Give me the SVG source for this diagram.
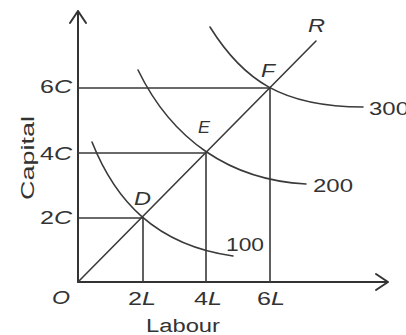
<svg xmlns="http://www.w3.org/2000/svg" width="406" height="335" viewBox="0 0 406 335">
<style>
.ln{stroke:#3a3a3a;stroke-width:1.6;fill:none;stroke-linecap:round}
.ax{stroke:#333;stroke-width:2;fill:none;stroke-linecap:round;stroke-linejoin:round}
.t{font-family:"Liberation Sans",Arial,sans-serif;font-size:18px;fill:#333}
.i{font-style:italic}
</style>
<rect width="406" height="335" fill="#fff"/>
<g id="axes">
<path class="ax" d="M78,282 V11 M70,23 L78,11 L86,23"/>
<path class="ax" d="M78,282 H388 M376,274 L388,282 L376,290"/>
</g>
<g id="guides">
<path class="ln" d="M78,88 H270 V282 M78,153 H206 V282 M78,218 H143 V282"/>
</g>
<g id="ray">
<path class="ln" d="M78,282 L316,41"/>
</g>
<g id="curves">
<path class="ln" d="M92,142 C115,200 155,245 233,256"/>
<path class="ln" d="M138,70 C172,140 230,180 306,184"/>
<path class="ln" d="M210,27 C243,80 282,107 363,107"/>
</g>
<g id="labels">
<text class="t" x="40" y="93" textLength="32" lengthAdjust="spacingAndGlyphs">6<tspan class="i">C</tspan></text>
<text class="t" x="40" y="160" textLength="32" lengthAdjust="spacingAndGlyphs">4<tspan class="i">C</tspan></text>
<text class="t" x="40" y="224" textLength="32" lengthAdjust="spacingAndGlyphs">2<tspan class="i">C</tspan></text>
<text class="t i" x="52" y="304" textLength="18" lengthAdjust="spacingAndGlyphs">O</text>
<text class="t" x="128" y="305" textLength="28" lengthAdjust="spacingAndGlyphs">2<tspan class="i">L</tspan></text>
<text class="t" x="194" y="305" textLength="28" lengthAdjust="spacingAndGlyphs">4<tspan class="i">L</tspan></text>
<text class="t" x="257" y="305" textLength="28" lengthAdjust="spacingAndGlyphs">6<tspan class="i">L</tspan></text>
<text class="t" x="146" y="332" textLength="74" lengthAdjust="spacingAndGlyphs">Labour</text>
<text class="t" transform="translate(34,158) rotate(-90)" text-anchor="middle" textLength="84" lengthAdjust="spacingAndGlyphs">Capital</text>
<text class="t" x="226" y="251" textLength="38" lengthAdjust="spacingAndGlyphs">100</text>
<text class="t" x="313" y="192" textLength="40" lengthAdjust="spacingAndGlyphs">200</text>
<text class="t" x="369" y="115" textLength="40" lengthAdjust="spacingAndGlyphs">300</text>
<text class="t i" x="308" y="32" textLength="17" lengthAdjust="spacingAndGlyphs">R</text>
<text class="t i" x="261" y="77" textLength="14" lengthAdjust="spacingAndGlyphs">F</text>
<text class="t i" x="134" y="205" textLength="17" lengthAdjust="spacingAndGlyphs">D</text>
<text class="t i" x="198" y="133" style="font-size:16px" textLength="12" lengthAdjust="spacingAndGlyphs">E</text>
</g>
</svg>
